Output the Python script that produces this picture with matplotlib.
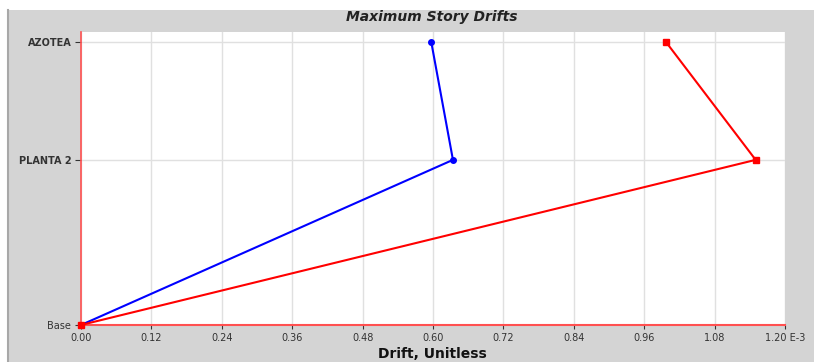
import matplotlib.pyplot as plt
from matplotlib.patches import Rectangle
from matplotlib.lines import Line2D

# story data
stories = ["Base", "PLANTA 2", "AZOTEA"]
elev = [0.0, 3.5, 6.0]
drift_x = [0.0, 0.634, 0.597]   # blue series (E-3)
drift_y = [0.0, 1.150, 0.997]   # red series (E-3)
xticks = [0.00, 0.12, 0.24, 0.36, 0.48, 0.60, 0.72, 0.84, 0.96, 1.08, 1.20]
xtick_labels = ["%.2f" % v for v in xticks]
xtick_labels[-1] = "1.20 E-3"

W, H = 814, 362
fig = plt.figure(figsize=(W / 100, H / 100), dpi=100)
fig.patch.set_facecolor("white")

# gray panel behind the plot
fig.patches.append(Rectangle((7 / W, 0), 1 - 7 / W, (H - 10) / H,
                             transform=fig.transFigure, facecolor="#d4d4d4",
                             edgecolor="none", zorder=-5))
fig.lines.append(Line2D([7.5 / W, 7.5 / W], [0, (H - 10) / H],
                        transform=fig.transFigure, color="#a8a8a8", lw=1.5,
                        zorder=-4))

ax = fig.add_axes([81 / W, (H - 325) / H, (785 - 81) / W, (325 - 32) / H])
ax.set_zorder(2)
ax.set_facecolor("white")

ax.plot(drift_x, elev, color="blue", lw=1.5, marker="o", ms=4, clip_on=False, zorder=3)
ax.plot(drift_y, elev, color="red", lw=1.5, marker="s", ms=4, clip_on=False, zorder=4)

ax.set_xlim(0, 1.2)
ax.set_ylim(0, 6.21)
ax.set_xticks(xticks)
ax.set_xticklabels(xtick_labels)
ax.set_yticks(elev)
ax.set_yticklabels(stories)
for lab in ax.get_yticklabels()[1:]:
    lab.set_fontweight("bold")

ax.grid(True, color="#e0e0e0", lw=1)
ax.set_axisbelow(True)
for s in ["top", "right"]:
    ax.spines[s].set_visible(False)
ax.spines["left"].set_color("#ff5050")
ax.spines["bottom"].set_color("#ff5050")
ax.spines["left"].set_linewidth(1.2)
ax.spines["bottom"].set_linewidth(1.5)
ax.tick_params(axis="both", labelsize=7, colors="#333333", length=4, width=0.8,
               pad=3)
ax.tick_params(axis="x", length=3, pad=3)

fig.text(432 / W, 1 - 17 / H, "Maximum Story Drifts", ha="center", va="center",
         fontsize=10, fontweight="bold", style="italic", color="#222222",
         zorder=5)
fig.text(432 / W, 0.5 / H, "Drift, Unitless", ha="center", va="bottom",
         fontsize=10, fontweight="bold", color="#111111", zorder=5)

fig.savefig("out.png", dpi=100)
